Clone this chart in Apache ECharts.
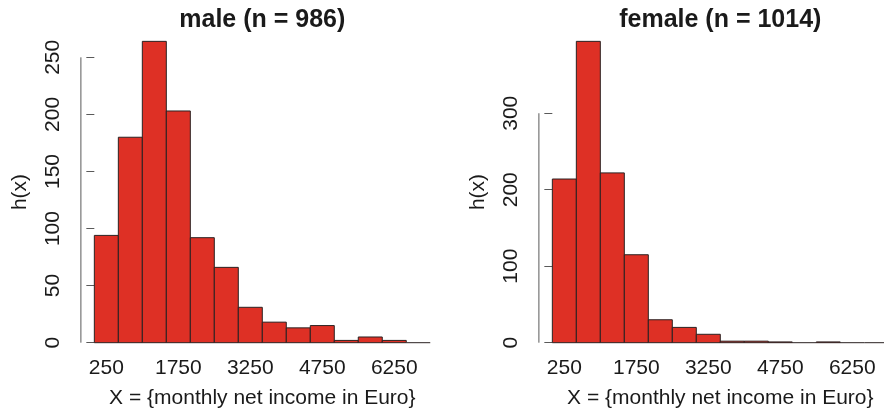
<!DOCTYPE html>
<html>
<head>
<meta charset="utf-8">
<script src="https://cdn.jsdelivr.net/npm/echarts@6/dist/echarts.min.js"></script>
<style>html,body{margin:0;padding:0;background:#fff}#c{width:884px;height:410px}</style>
</head>
<body>
<div id="c"></div>
<script>
const breaks = [0,500,1000,1500,2000,2500,3000,3500,4000,4500,5000,5500,6000,6500,7000];
const maleCounts = [94,180,264,203,92,66,31,18,13,15,2,5,2,0];
const femaleCounts = [214,394,222,115,30,20,11,2,2,1,0,1,0,0];
const xTickLabels = [250,1750,3250,4750,6250];
const maleYTicks = [0,50,100,150,200,250];
const femaleYTicks = [0,100,200,300];
const titles = ['male (n = 986)', 'female (n = 1014)'];
const xName = 'X = {monthly net income in Euro}';
const yName = 'h(x)';

const FONT = '"Liberation Sans", Arial, Helvetica, sans-serif';
const FILL = '#de3025';
const STROKE = '#2a2222';
const AXIS = '#5a5a5a';
const TEXT = '#1a1a1a';

const x0 = breaks[0], x1 = breaks[breaks.length-1];
const xlim = [x0 - 0.04*(x1-x0), x1 + 0.04*(x1-x0)];
function ylim(counts){ const m = Math.max(...counts); return [-0.04*m, 1.04*m]; }

function binData(counts){ return counts.map((c,i)=>[breaks[i], breaks[i+1], c]); }

function renderItem(params, api){
  const lo = api.value(0), hi = api.value(1), c = api.value(2);
  const p0 = api.coord([lo, 0]);
  const p1 = api.coord([hi, c]);
  if (c > 0) {
    return {type:'rect', shape:{x:p0[0], y:p1[1], width:p1[0]-p0[0], height:p0[1]-p1[1]},
      style:{fill:FILL, stroke:STROKE, lineWidth:1}};
  }
  return {type:'line', shape:{x1:p0[0], y1:p0[1], x2:p1[0], y2:p0[1]}, style:{stroke:STROKE, lineWidth:1}};
}

const grids = [
  {left:80.9, right:440.3, top:29.3, bottom:55.25, outerBoundsMode:'none', containLabel:false},
  {left:538.9, right:-17.7, top:29.3, bottom:55.25, outerBoundsMode:'none', containLabel:false}
];
const countsList = [maleCounts, femaleCounts];
const yTicksList = [maleYTicks, femaleYTicks];
const titleX = [262.3, 720.3];

const option = {
  animation:false,
  backgroundColor:'#fff',
  textStyle:{fontFamily:FONT},
  title: titles.map((t,i)=>({text:t, left:titleX[i], top:8, textAlign:'center', padding:0,
    textStyle:{fontFamily:FONT, fontSize:25, fontWeight:'bold', color:TEXT}})),
  grid: grids,
  xAxis: [0,1].map(i=>({type:'value', gridIndex:i, min:xlim[0], max:xlim[1],
    axisLine:{show:false}, axisTick:{show:false}, splitLine:{show:false},
    axisLabel:{customValues:xTickLabels, formatter:v=>String(v), fontFamily:FONT, fontSize:21, color:TEXT, margin:3},
    name:xName, nameLocation:'middle', nameGap:33,
    nameTextStyle:{fontFamily:FONT, fontSize:21, color:TEXT}})),
  yAxis: [0,1].map(i=>({type:'value', gridIndex:i, min:ylim(countsList[i])[0], max:ylim(countsList[i])[1],
    axisLine:{show:false}, splitLine:{show:false},
    axisTick:{show:true, customValues:yTicksList[i], length:8, lineStyle:{color:AXIS}},
    axisLabel:{customValues:yTicksList[i], formatter:v=>String(v), rotate:90, fontFamily:FONT, fontSize:21, color:TEXT, margin:17},
    name:yName, nameLocation:'middle', nameGap:50, nameRotate:90,
    nameTextStyle:{fontFamily:FONT, fontSize:21, color:TEXT}})),
  series: []
};
[0,1].forEach(i=>{
  option.series.push({type:'custom', xAxisIndex:i, yAxisIndex:i, renderItem, data:binData(countsList[i]), silent:true, clip:false});
  const yt = yTicksList[i];
  option.series.push({type:'line', xAxisIndex:i, yAxisIndex:i, silent:true, symbol:'none', clip:false,
    data:[[xlim[0], yt[0]], [xlim[0], yt[yt.length-1]]], lineStyle:{color:AXIS, width:1}});
});
const chart = echarts.init(document.getElementById('c'), null, {renderer:'canvas'});
chart.setOption(option);
</script>
</body>
</html>
